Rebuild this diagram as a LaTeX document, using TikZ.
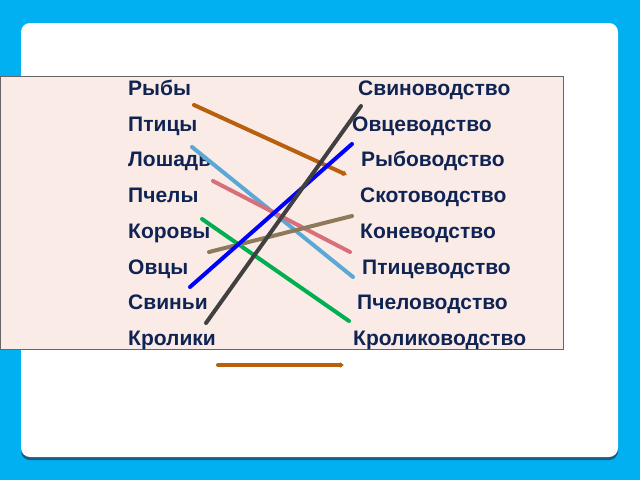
\documentclass[tikz,border=0pt]{standalone}
\usepackage{fontspec}
\setmainfont{Liberation Sans}
\usetikzlibrary{arrows.meta}
\definecolor{slidecolor}{RGB}{0, 176, 240}
\definecolor{shadecolor}{RGB}{28, 90, 130}
\definecolor{boxcolor}{RGB}{251, 235, 230}
\definecolor{textcolor}{RGB}{16, 36, 84}
\definecolor{brownline}{RGB}{184, 96, 14}
\definecolor{skyline}{RGB}{90, 168, 214}
\definecolor{roseline}{RGB}{216, 112, 122}
\definecolor{greenline}{RGB}{0, 176, 80}
\definecolor{khakiline}{RGB}{140, 122, 90}
\definecolor{blueline}{RGB}{0, 0, 255}
\definecolor{grayline}{RGB}{64, 64, 64}

\begin{document}
\begin{tikzpicture}[x=1pt, y=-1pt,
    word/.style={anchor=base west, inner sep=0pt, font=\fontsize{21}{23}\selectfont\bfseries, text=textcolor},
    link/.style={line width=4pt, line cap=round}]
    % Slide
    \fill[slidecolor] (0, 0) rectangle (640, 480);
    \useasboundingbox (0, 0) rectangle (640, 480);
    \fill[shadecolor, rounded corners=9pt] (21, 26) rectangle (618, 460);
    \fill[white, rounded corners=9pt] (21, 23) rectangle (618, 457);
    \filldraw[fill=boxcolor, draw=gray!80!black, line width=0.8pt] (0, 76) rectangle (563, 349);
    
    % Left column
    \node[word] (l1) at (128, 95) {Рыбы};
    \node[word] (l2) at (128, 131) {Птицы};
    \node[word] (l3) at (128, 166) {Лошадь};
    \node[word] (l4) at (128, 202) {Пчелы};
    \node[word] (l5) at (128, 238) {Коровы};
    \node[word] (l6) at (128, 274) {Овцы};
    \node[word] (l7) at (128, 309) {Свиньи};
    \node[word] (l8) at (128, 345) {Кролики};
    
    % Right column
    \node[word] (r1) at (358, 95) {Свиноводство};
    \node[word] (r2) at (352, 131) {Овцеводство};
    \node[word] (r3) at (361, 166) {Рыбоводство};
    \node[word] (r4) at (360, 202) {Скотоводство};
    \node[word] (r5) at (360, 238) {Коневодство};
    \node[word] (r6) at (362, 274) {Птицеводство};
    \node[word] (r7) at (357, 309) {Пчеловодство};
    \node[word] (r8) at (353, 345) {Кролиководство};
    
    % Line ends
    \coordinate (fishA) at (194, 105);  \coordinate (fishB) at (347, 175);
    \coordinate (birdA) at (192, 147);  \coordinate (birdB) at (353, 277);
    \coordinate (horseA) at (213, 181); \coordinate (horseB) at (350, 252);
    \coordinate (cowA) at (202, 219);   \coordinate (cowB) at (349, 321);
    \coordinate (beeA) at (209, 252);   \coordinate (beeB) at (352, 216);
    \coordinate (sheepA) at (190, 287); \coordinate (sheepB) at (352, 144);
    \coordinate (pigA) at (206, 323);   \coordinate (pigB) at (361, 106);
    \coordinate (keyA) at (218, 365);   \coordinate (keyB) at (344, 365);
    
    % Links
    \draw[link, brownline, -{Latex[length=4pt, width=6pt]}] (fishA) -- (fishB);
    \draw[link, skyline] (birdA) -- (birdB);
    \draw[link, roseline] (horseA) -- (horseB);
    \draw[link, greenline] (cowA) -- (cowB);
    \draw[link, khakiline] (beeA) -- (beeB);
    \draw[link, blueline] (sheepA) -- (sheepB);
    \draw[link, grayline] (pigA) -- (pigB);
    \draw[link, brownline, -{Latex[length=4pt, width=6pt]}] (keyA) -- (keyB);
\end{tikzpicture}
\end{document}
